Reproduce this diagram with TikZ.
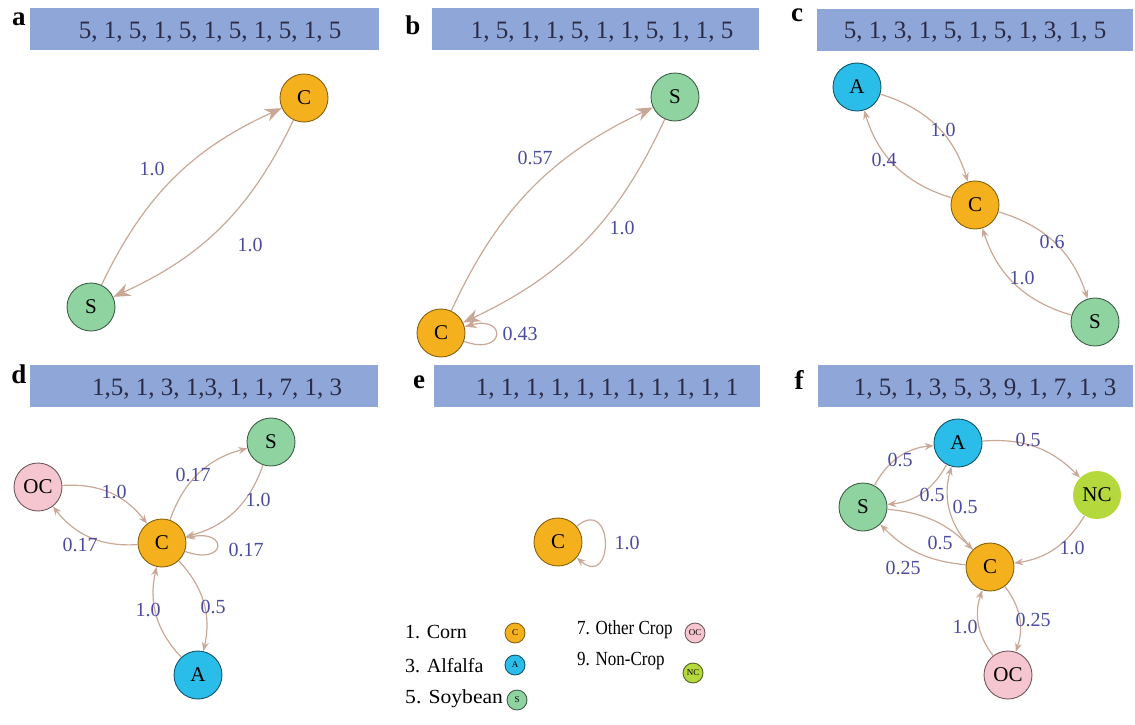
\documentclass[tikz,border=0pt]{standalone}
\usepackage{fontspec}
\usepackage{graphicx}
\setmainfont{Liberation Serif}
\usetikzlibrary{arrows.meta}
\definecolor{hdr}{HTML}{8FA6D9}
\definecolor{hdrtxt}{HTML}{2B2B45}
\definecolor{cornc}{HTML}{F5B01E}
\definecolor{soyc}{HTML}{8FD3A0}
\definecolor{alfc}{HTML}{2BBDEA}
\definecolor{occ}{HTML}{F5C6CF}
\definecolor{ncc}{HTML}{B5D93C}
\definecolor{edgec}{HTML}{C9A898}
\definecolor{labc}{HTML}{4B4BA0}
\begin{document}
\begin{tikzpicture}[x=1pt,y=1pt,
  hbox/.style={fill=hdr, draw=none, minimum height=42pt, inner sep=0pt},
  htext/.style={text=hdrtxt, font=\fontsize{25}{25}\selectfont, inner sep=0pt},
  plet/.style={font=\fontsize{27}{27}\selectfont\bfseries, anchor=base, inner sep=0pt},
  vtx/.style={circle, minimum size=48pt, inner sep=0pt, line width=0.9pt, font=\fontsize{21}{21}\selectfont},
  cn/.style={vtx, fill=cornc, draw=cornc!55!black},
  sn/.style={vtx, fill=soyc, draw=soyc!45!black},
  an/.style={vtx, fill=alfc, draw=alfc!45!black},
  ocn/.style={vtx, fill=occ, draw=occ!45!black},
  ncn/.style={vtx, fill=ncc, draw=none},
  tiny/.style={minimum size=20pt, font=\fontsize{9}{9}\selectfont},
  edge/.style={draw=edgec, line width=1.2pt, -{Stealth[length=9pt,width=7pt]}, bend left=28},
  bigedge/.style={edge, -{Stealth[length=17pt,width=13pt]}, bend left=20},
  selfloop/.style={draw=edgec, line width=1.2pt, -{Stealth[length=9pt,width=7pt]}, relative=false},
  elab/.style={text=labc, font=\fontsize{20}{20}\selectfont, inner sep=0pt},
  legt/.style={font=\fontsize{20}{20}\selectfont, anchor=west, inner sep=0pt}
]
\useasboundingbox (0,0) rectangle (1135,-724);

% ---------- headers ----------
\node[hbox, minimum width=349pt] (ha) at (204,-29) {};
\node[hbox, minimum width=327pt] (hb) at (595,-29) {};
\node[hbox, minimum width=316pt] (hc) at (975,-29.5) {};
\node[hbox, minimum width=348pt] (hd) at (204,-386) {};
\node[hbox, minimum width=326pt] (he) at (597,-385.5) {};
\node[hbox, minimum width=315pt] (hf) at (975.5,-386) {};
\node[htext] (ta) at (210,-32) {5, 1, 5, 1, 5, 1, 5, 1, 5, 1, 5};
\node[htext] (tb) at (602,-32) {1, 5, 1, 1, 5, 1, 1, 5, 1, 1, 5};
\node[htext] (tc) at (975,-32) {5, 1, 3, 1, 5, 1, 5, 1, 3, 1, 5};
\node[htext] (td) at (217,-389) {1,5, 1, 3, 1,3, 1, 1, 7, 1, 3};
\node[htext] (te) at (607,-389) {1, 1, 1, 1, 1, 1, 1, 1, 1, 1, 1};
\node[htext] (tf) at (985,-389) {1, 5, 1, 3, 5, 3, 9, 1, 7, 1, 3};
\node[plet] (la) at (19,-25) {a};
\node[plet] (lb) at (413,-34) {b};
\node[plet] (lc) at (797,-21) {c};
\node[plet] (ld) at (19,-383) {d};
\node[plet] (le) at (419,-388) {e};
\node[plet] (lf) at (799,-389) {f};

% ---------- panel a ----------
\node[cn] (aC) at (304,-98) {C};
\node[sn] (aS) at (91,-307) {S};
\draw[bigedge] (aS) to (aC);
\draw[bigedge] (aC) to (aS);
\node[elab] (la1) at (152,-169) {1.0};
\node[elab] (la2) at (250,-245) {1.0};

% ---------- panel b ----------
\node[sn] (bS) at (675,-97) {S};
\node[cn] (bC) at (441,-333) {C};
\draw[bigedge] (bC) to (bS);
\draw[bigedge] (bS) to (bC);
\draw[selfloop, -{Stealth[length=12pt,width=9pt]}] (bC) to[out=-20, in=15, looseness=2.5, min distance=44pt] (bC);
\node[elab] (lb1) at (535,-158) {0.57};
\node[elab] (lb2) at (622,-228) {1.0};
\node[elab] (lb3) at (520,-334) {0.43};

% ---------- panel c ----------
\node[an] (cA) at (857,-87) {A};
\node[cn] (cC) at (975,-205) {C};
\node[sn] (cS) at (1095,-322) {S};
\draw[edge] (cA) to (cC);
\draw[edge] (cC) to (cA);
\draw[edge] (cC) to (cS);
\draw[edge] (cS) to (cC);
\node[elab] (lc1) at (943,-130) {1.0};
\node[elab] (lc2) at (884,-160) {0.4};
\node[elab] (lc3) at (1052,-242) {0.6};
\node[elab] (lc4) at (1022,-278) {1.0};

% ---------- panel d ----------
\node[sn] (dS) at (271,-442) {S};
\node[ocn] (dOC) at (38,-487) {OC};
\node[cn] (dC) at (162,-543) {C};
\node[an] (dA) at (198,-675) {A};
\draw[edge] (dC) to (dS);
\draw[edge] (dS) to (dC);
\draw[edge] (dOC) to (dC);
\draw[edge] (dC) to (dOC);
\draw[edge] (dC) to (dA);
\draw[edge] (dA) to (dC);
\draw[selfloop] (dC) to[out=-20, in=12, looseness=2.5, min distance=44pt] (dC);
\node[elab] (ld1) at (193,-475) {0.17};
\node[elab] (ld2) at (258,-500) {1.0};
\node[elab] (ld3) at (114,-492) {1.0};
\node[elab] (ld4) at (80,-545) {0.17};
\node[elab] (ld5) at (246,-550) {0.17};
\node[elab] (ld6) at (213,-607) {0.5};
\node[elab] (ld7) at (148,-610) {1.0};

% ---------- panel e ----------
\node[cn] (eC) at (558,-542) {C};
\draw[selfloop] (eC) to[out=40, in=-40, looseness=4, min distance=36pt] (eC);
\node[elab] (le1) at (627,-543) {1.0};

% legend
\node[legt] (g1) at (405,-632) {1. Corn};
\node[cn, tiny] (g1i) at (515,-633) {C};
\node[legt] (g3) at (405,-666) {3. Alfalfa};
\node[an, tiny] (g3i) at (515,-665) {A};
\node[legt] (g5) at (405,-699) {\scalebox{1.08}[1]{5. Soybean}};
\node[sn, tiny] (g5i) at (517,-700) {S};
\node[legt] (g7) at (577,-630) {\scalebox{0.85}[1]{7. Other Crop}};
\node[ocn, tiny] (g7i) at (695,-633) {OC};
\node[legt] (g9) at (577,-661) {\scalebox{0.85}[1]{9. Non-Crop}};
\node[ncn, tiny, draw=ncc!45!black] (g9i) at (693,-673) {NC};

% ---------- panel f ----------
\node[an] (fA) at (958,-443) {A};
\node[ncn] (fNC) at (1097,-495) {NC};
\node[sn] (fS) at (863,-507) {S};
\node[cn] (fC) at (990,-567) {C};
\node[ocn] (fOC) at (1008,-675) {OC};
\draw[edge, bend left=25] (fA) to (fNC);
\draw[edge, bend left=25] (fNC) to (fC);
\draw[edge] (fS) to (fA);
\draw[edge] (fA) to (fS);
\draw[edge, bend left=30] (fC) to (fA);
\draw[edge, bend left=20] (fS) to (fC);
\draw[edge, bend left=20] (fC) to (fS);
\draw[edge] (fC) to (fOC);
\draw[edge] (fOC) to (fC);
\node[elab] (lf1) at (1028,-440) {0.5};
\node[elab] (lf2) at (1072,-548) {1.0};
\node[elab] (lf3) at (900,-460) {0.5};
\node[elab] (lf4) at (932,-495) {0.5};
\node[elab] (lf5) at (965,-507) {0.5};
\node[elab] (lf6) at (940,-543) {0.5};
\node[elab] (lf7) at (903,-568) {0.25};
\node[elab] (lf8) at (1033,-620) {0.25};
\node[elab] (lf9) at (965,-627) {1.0};
\end{tikzpicture}
\end{document}
